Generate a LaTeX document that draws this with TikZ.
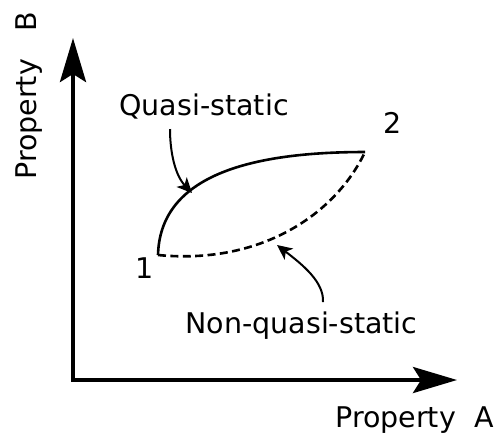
\documentclass[tikz,border=0pt]{standalone}
\usepackage{fontspec}
\setmainfont{DejaVu Sans}
\usetikzlibrary{arrows.meta}

\begin{document}
\begin{tikzpicture}[x=0.5pt,y=-0.5pt,
  axis/.style={line width=2pt, {Stealth[length=22pt,width=13pt,inset=4pt]}-{Stealth[length=22pt,width=13pt,inset=4pt]}},
  process/.style={line width=1.3pt},
  pointer/.style={line width=1pt, -{Stealth[length=7.5pt,width=7pt,inset=2pt]}},
  lbl/.style={inner sep=0pt, font=\fontsize{14.25pt}{17pt}\selectfont}]
\useasboundingbox (0,0) rectangle (496,436);
% axes
\coordinate (ytip) at (73,38);
\coordinate (xtip) at (457,380);
\draw[axis] (ytip) |- (xtip);
\node[lbl, anchor=base west] (propA) at (335,427) {Property~~A};
\node[lbl, anchor=base west, rotate=90] (propB) at (36,180) {Property~~~B};
% states and the two paths between them
\coordinate (s1) at (158,255);
\coordinate (s2) at (365,152);
\node[lbl, anchor=base west] (n1) at (135,278) {1};
\node[lbl, anchor=base west] (n2) at (383,133) {2};
\draw[process] (s1) .. controls (160,180) and (240,152) .. (s2);
\draw[process, dash pattern=on 4pt off 2.2pt] (s1) .. controls (260,265) and (335,215) .. (s2);
% labels with pointers
\node[lbl, anchor=base west] (quasi) at (119,115) {Quasi-static};
\coordinate (qfrom) at (170,129);
\coordinate (qto) at (192,193);
\draw[pointer] (qfrom) .. controls (170,152) and (175,175) .. (qto);
\node[lbl, anchor=base west] (nonquasi) at (185,333) {Non-quasi-static};
\coordinate (nfrom) at (323,302);
\coordinate (nto) at (277,245);
\draw[pointer] (nfrom) .. controls (324,282) and (303,265) .. (nto);
\end{tikzpicture}
\end{document}
